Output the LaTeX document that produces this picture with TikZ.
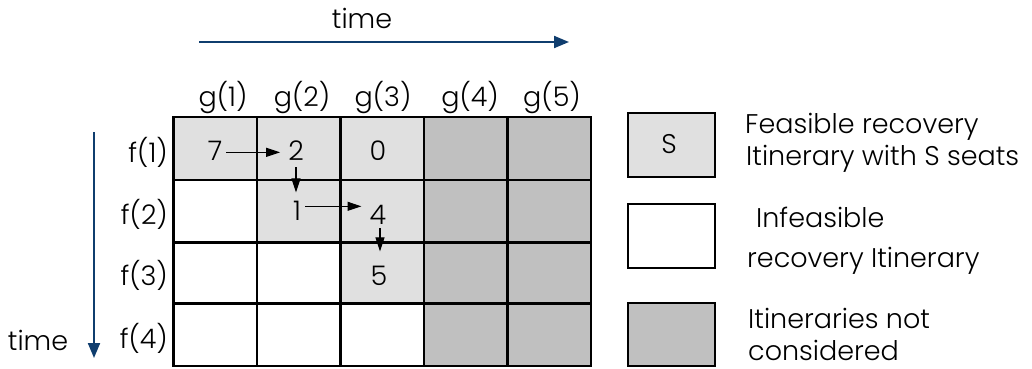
\documentclass[tikz,border=0pt]{standalone}
\usepackage{fontspec}
\setmainfont{Poppins Light}
\usetikzlibrary{arrows.meta}
\definecolor{feas}{HTML}{E0E0E0}
\definecolor{notc}{HTML}{C0C0C0}
\definecolor{tblue}{HTML}{0F3D6E}
\tikzset{
  lbl/.style={font=\fontsize{27}{32}\selectfont, inner sep=0pt},
  legtxt/.style={font=\fontsize{27}{32}\selectfont, inner sep=0pt, anchor=base west},
  cellf/.style={draw=black, line width=2.2pt, fill=feas},
  celli/.style={draw=black, line width=2.2pt, fill=white},
  celln/.style={draw=black, line width=2.2pt, fill=notc},
  flow/.style={-{Triangle[length=14pt,width=9pt]}, line width=1.1pt, black},
  timearrow/.style={-{Triangle[length=15pt,width=12pt]}, line width=2pt, tblue}
}
\begin{document}
\begin{tikzpicture}[x=1pt,y=-1pt]
\useasboundingbox (0,0) rectangle (1032,368);
% grid cells
\def\xa{173.5}\def\xb{257}\def\xc{340.5}\def\xd{424}\def\xe{507.5}\def\xf{591}
\def\ya{117}\def\yb{180}\def\yc{242.5}\def\yd{303.5}\def\ye{366}
% row 1
\draw[cellf] (\xa,\ya) rectangle (\xb,\yb);
\draw[cellf] (\xb,\ya) rectangle (\xc,\yb);
\draw[cellf] (\xc,\ya) rectangle (\xd,\yb);
\draw[celln] (\xd,\ya) rectangle (\xe,\yb);
\draw[celln] (\xe,\ya) rectangle (\xf,\yb);
% row 2
\draw[celli] (\xa,\yb) rectangle (\xb,\yc);
\draw[cellf] (\xb,\yb) rectangle (\xc,\yc);
\draw[cellf] (\xc,\yb) rectangle (\xd,\yc);
\draw[celln] (\xd,\yb) rectangle (\xe,\yc);
\draw[celln] (\xe,\yb) rectangle (\xf,\yc);
% row 3
\draw[celli] (\xa,\yc) rectangle (\xb,\yd);
\draw[celli] (\xb,\yc) rectangle (\xc,\yd);
\draw[cellf] (\xc,\yc) rectangle (\xd,\yd);
\draw[celln] (\xd,\yc) rectangle (\xe,\yd);
\draw[celln] (\xe,\yc) rectangle (\xf,\yd);
% row 4
\draw[celli] (\xa,\yd) rectangle (\xb,\ye);
\draw[celli] (\xb,\yd) rectangle (\xc,\ye);
\draw[celli] (\xc,\yd) rectangle (\xd,\ye);
\draw[celln] (\xd,\yd) rectangle (\xe,\ye);
\draw[celln] (\xe,\yd) rectangle (\xf,\ye);
% column labels
\node[lbl, anchor=base] (g1) at (223,106) {g(1)};
\node[lbl, anchor=base] (g2) at (302,106) {g(2)};
\node[lbl, anchor=base] (g3) at (383,106) {g(3)};
\node[lbl, anchor=base] (g4) at (470,106) {g(4)};
\node[lbl, anchor=base] (g5) at (552,106) {g(5)};
% row labels
\node[lbl, anchor=base east] (f1) at (168,162) {f(1)};
\node[lbl, anchor=base east] (f2) at (168,224) {f(2)};
\node[lbl, anchor=base east] (f3) at (168,285) {f(3)};
\node[lbl, anchor=base east] (f4) at (168,348) {f(4)};
% cell values
\node[lbl, anchor=base] (n7) at (215,160) {7};
\node[lbl, anchor=base] (n2) at (296,160) {2};
\node[lbl, anchor=base] (n0) at (378,160) {0};
\node[lbl, anchor=base] (n1) at (297,220) {1};
\node[lbl, anchor=base] (n4) at (378,224) {4};
\node[lbl, anchor=base] (n5) at (379,285) {5};
\draw[flow, shorten <=4pt, shorten >=8pt] ([yshift=-2pt]n7.east) -- ([yshift=-2pt]n7.east -| n2.west);
\draw[flow, shorten <=7pt, shorten >=8pt] (n2.south) -- (n2.south |- n1.north);
\draw[flow, shorten <=4pt, shorten >=8pt] ([yshift=4pt]n1.east) -- ([yshift=4pt]n1.east -| n4.west);
\draw[flow, shorten <=4pt, shorten >=14pt] ([xshift=2pt]n4.south) -- ([xshift=2pt]n4.south |- n5.north);
% time arrows
\coordinate (th0) at (199,42);
\coordinate (th1) at (569,42);
\draw[timearrow] (th0) -- (th1);
\node[lbl] (tht) at (362,18) {time};
\coordinate (tv0) at (94,132);
\coordinate (tv1) at (94,358);
\draw[timearrow] (tv0) -- (tv1);
\node[lbl] (tvt) at (38,340) {time};
% legend
\draw[cellf] (628,113) rectangle (715,177);
\node[lbl] (ls) at (669,144) {S};
\draw[celli] (628,204) rectangle (715,268);
\draw[celln] (628,303) rectangle (715,366);
\node[legtxt] (lt1a) at (745,133) {Feasible recovery};
\node[legtxt] (lt1b) at (746,165) {Itinerary with S seats};
\node[legtxt] (lt2a) at (756,227) {Infeasible};
\node[legtxt] (lt2b) at (747,267) {recovery Itinerary};
\node[legtxt] (lt3a) at (748,328) {Itineraries not};
\node[legtxt] (lt3b) at (748,360) {considered};
\end{tikzpicture}
\end{document}
